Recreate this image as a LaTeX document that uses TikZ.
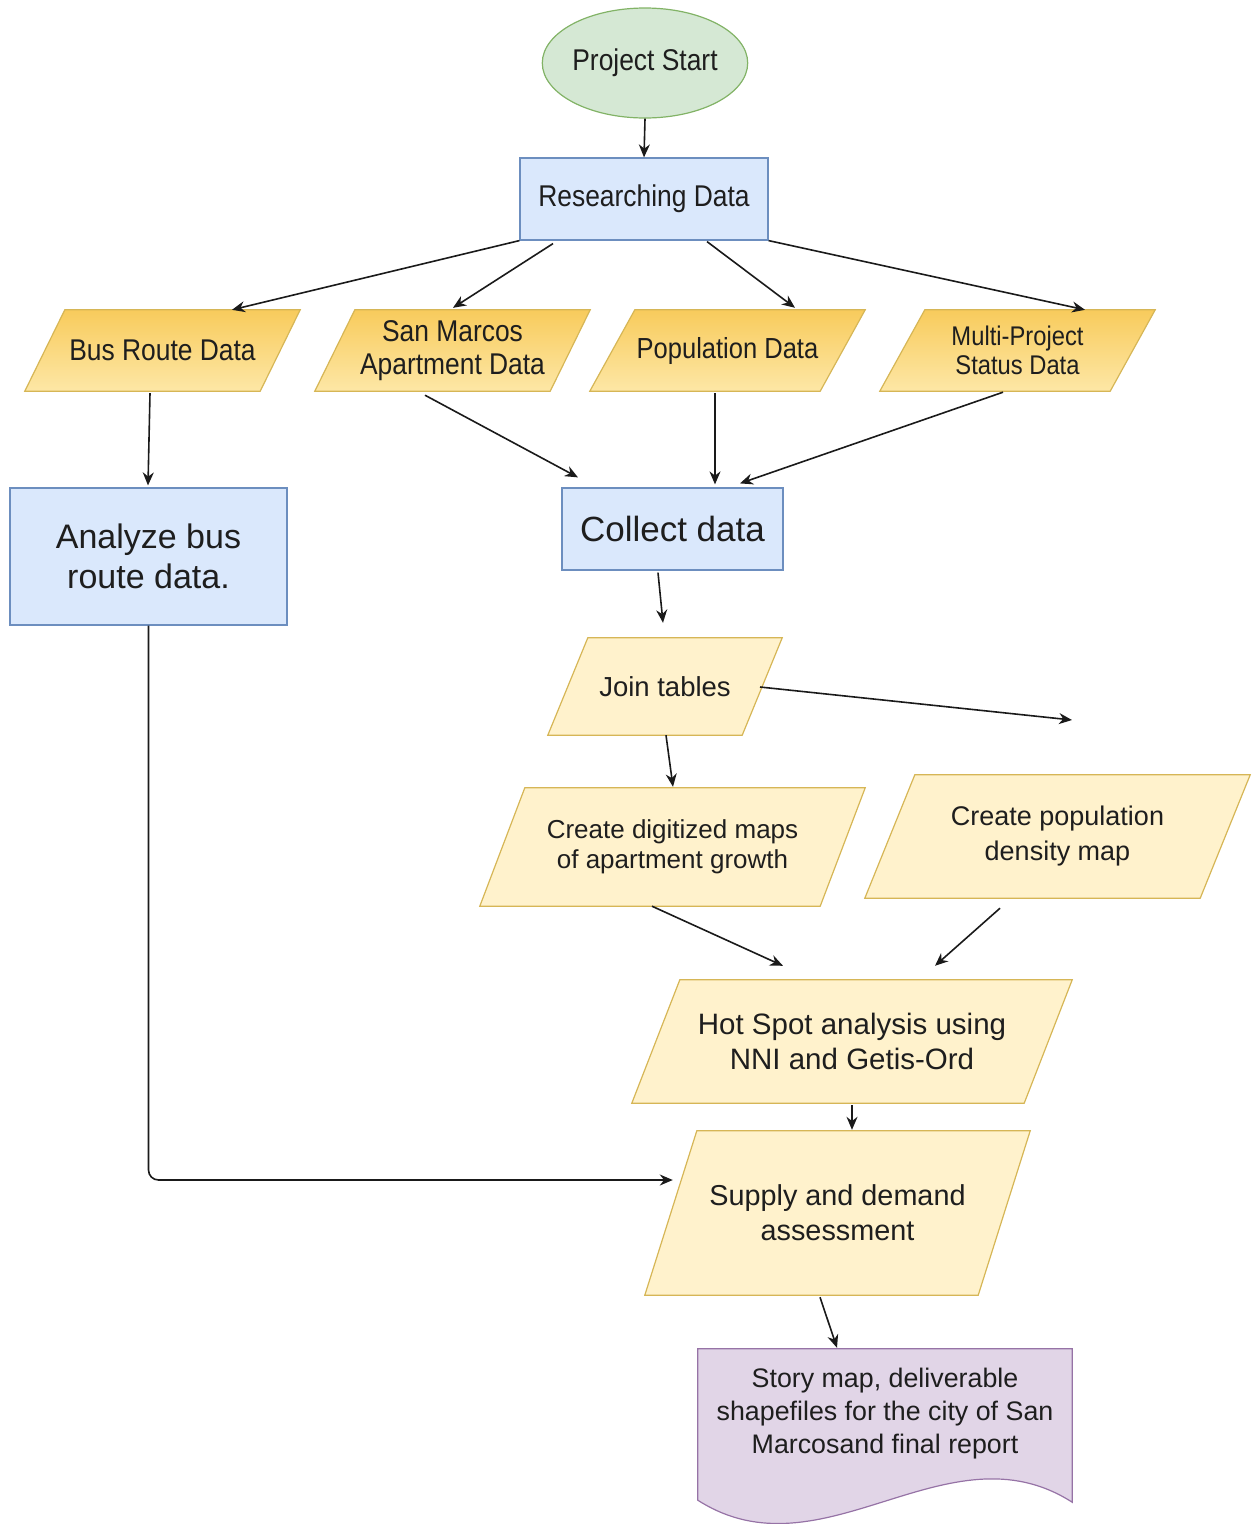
\documentclass[tikz,border=0pt]{standalone}
\usepackage{fontspec}
\setmainfont{Liberation Sans}
\newfontfamily\condf{Liberation Sans}[FakeStretch=0.88]
\usetikzlibrary{shapes.geometric,arrows.meta,calc,backgrounds}
\definecolor{txt}{HTML}{1E1E1E}
\definecolor{gfill}{HTML}{D5E8D4}
\definecolor{gline}{HTML}{82B366}
\definecolor{bfill}{HTML}{DAE8FC}
\definecolor{bline}{HTML}{6C8EBF}
\definecolor{yfill}{HTML}{FFF2CC}
\definecolor{yline}{HTML}{D6B656}
\definecolor{ytop}{HTML}{F8CB5C}
\definecolor{ybot}{HTML}{FDE7A6}
\definecolor{pfill}{HTML}{E1D5E7}
\definecolor{pline}{HTML}{9673A6}
\definecolor{arrc}{HTML}{1A1A1A}
\newcommand{\mypara}[3]{%
  \path[#3] ($(#1.north west)+(#2,0)$) -- (#1.north east) -- ($(#1.south east)+(-#2,0)$) -- (#1.south west) -- cycle;}
\begin{document}
\begin{tikzpicture}[x=1pt,y=-1pt,
  box/.style={rectangle, inner sep=0pt, align=center, text=txt},
  bluebox/.style={box, draw=bline, fill=bfill, line width=1.2pt},
  shadepara/.style={top color=ytop, bottom color=ybot, draw=yline, line width=1.2pt},
  plainpara/.style={fill=yfill, draw=yline, line width=1.2pt},
  arr/.style={draw=arrc, line width=1.6pt, -{Stealth[length=13pt,width=11pt]}},
  fc/.style={font=\condf\fontsize{#1}{33}\selectfont},
  fn/.style={font=\fontsize{#1}{#1}\selectfont}]
\useasboundingbox (0,0) rectangle (1252,1524);

% nodes
\node[ellipse, inner sep=0pt, minimum width=166, minimum height=110, draw=gline, fill=gfill, line width=1.2pt, text=txt, fc=30] (ps) at (645,63) {Project Start};
\node[bluebox, minimum width=248, minimum height=82, fc=30] (rd) at (644,199) {Researching Data};

\node[box, minimum width=275, minimum height=81, fc=30] (bus) at (162.5,350.5) {Bus Route Data};
\node[box, minimum width=275, minimum height=81, fc=30] (sm) at (452.5,350.5) {San Marcos\\Apartment Data};
\node[box, minimum width=275, minimum height=81, fc=29] (pop) at (727.5,350.5) {Population Data};
\node[box, minimum width=275, minimum height=81, font=\condf\fontsize{27}{29}\selectfont] (mp) at (1017.5,350.5) {Multi-Project\\Status Data};

\node[bluebox, minimum width=277, minimum height=137, font=\fontsize{34}{40}\selectfont] (an) at (148.5,556.5) {Analyze bus\\route data.};
\node[bluebox, minimum width=221, minimum height=82, fn=35] (cd) at (672.5,529) {Collect data};

\node[box, minimum width=234, minimum height=97, fn=27.5] (jt) at (665,686.5) {Join tables};
\coordinate (jtend) at (1072,720);
\node[box, minimum width=385, minimum height=118, font=\fontsize{26}{30}\selectfont] (cdm) at (672.5,847) {Create digitized maps\\of apartment growth};
\node[box, minimum width=385, minimum height=123, font=\fontsize{27}{35}\selectfont] (cpd) at (1057.5,836.5) {Create population\\density map};
\node[box, minimum width=440, minimum height=123, font=\fontsize{29.5}{35}\selectfont] (hs) at (852,1041.5) {Hot Spot analysis using\\NNI and Getis-Ord};
\node[box, minimum width=385, minimum height=164, font=\fontsize{28.8}{35}\selectfont] (sd) at (837.5,1213) {Supply and demand\\assessment};
\node[box, minimum width=374, minimum height=129, font=\fontsize{26.8}{33}\selectfont] (doc) at (885,1413.5) {Story map, deliverable\\shapefiles for the city of San\\Marcosand final report};

% shapes behind text
\begin{pgfonlayer}{background}
\mypara{bus}{40}{shadepara}
\mypara{sm}{40}{shadepara}
\mypara{pop}{45}{shadepara}
\mypara{mp}{45}{shadepara}
\mypara{jt}{40}{plainpara}
\mypara{cdm}{45}{plainpara}
\mypara{cpd}{50}{plainpara}
\mypara{hs}{48}{plainpara}
\mypara{sd}{52}{plainpara}
\path[fill=pfill, draw=pline, line width=1.2pt] ($(doc.south west)+(0,22)$) -- (doc.north west) -- (doc.north east) -- ($(doc.south east)+(0,24)$)
  .. controls ($(doc.south east)+(-125,-56)$) and ($(doc.south west)+(125,102)$) .. ($(doc.south west)+(0,22)$) -- cycle;
\end{pgfonlayer}

% connectors
\draw[arr] (ps.south) -- (rd.north);
\draw[arr] (rd.south west) -- ($(bus.north)+(69.5,0)$);
\draw[arr] ($(rd.south)+(-91,3)$) -- ($(sm.north)+(0.5,-2)$);
\draw[arr] ($(rd.south)+(63,1)$) -- ($(pop.north)+(67.5,-2)$);
\draw[arr] (rd.south east) -- ($(mp.north)+(67.5,0)$);
\draw[arr] ($(bus.south)+(-12.5,2)$) -- ($(an.north)+(-0.5,-2)$);
\draw[arr] ($(sm.south)+(-27.5,4)$) -- ($(cd.north)+(-94.5,-10)$);
\draw[arr] ($(pop.south)+(-12.5,2)$) -- ($(cd.north)+(42.5,-3)$);
\draw[arr] ($(mp.south)+(-14.5,1)$) -- ($(cd.north)+(67.5,-4)$);
\draw[arr] ($(cd.south)+(-14.5,2)$) -- ($(jt.north)+(-2,-15)$);
\draw[arr] ($(jt.center)+(95,0.5)$) -- (jtend);
\draw[arr] ($(jt.south)+(1,0)$) -- ($(cdm.north)+(0.5,-1)$);
\draw[arr] ($(cdm.south)+(-20.5,0)$) -- ($(hs.north)+(-69,-14)$);
\draw[arr] ($(cpd.south)+(-57.5,10)$) -- ($(hs.north)+(83,-14)$);
\draw[arr] ($(hs.south)+(0,2)$) -- ($(sd.north)+(14.5,-1)$);
\draw[arr, rounded corners=10pt] (an.south) |- ($(sd.west)+(28,-33)$);
\draw[arr] ($(sd.south)+(-17.5,2)$) -- ($(doc.north)+(-48,-1)$);
\end{tikzpicture}
\end{document}
